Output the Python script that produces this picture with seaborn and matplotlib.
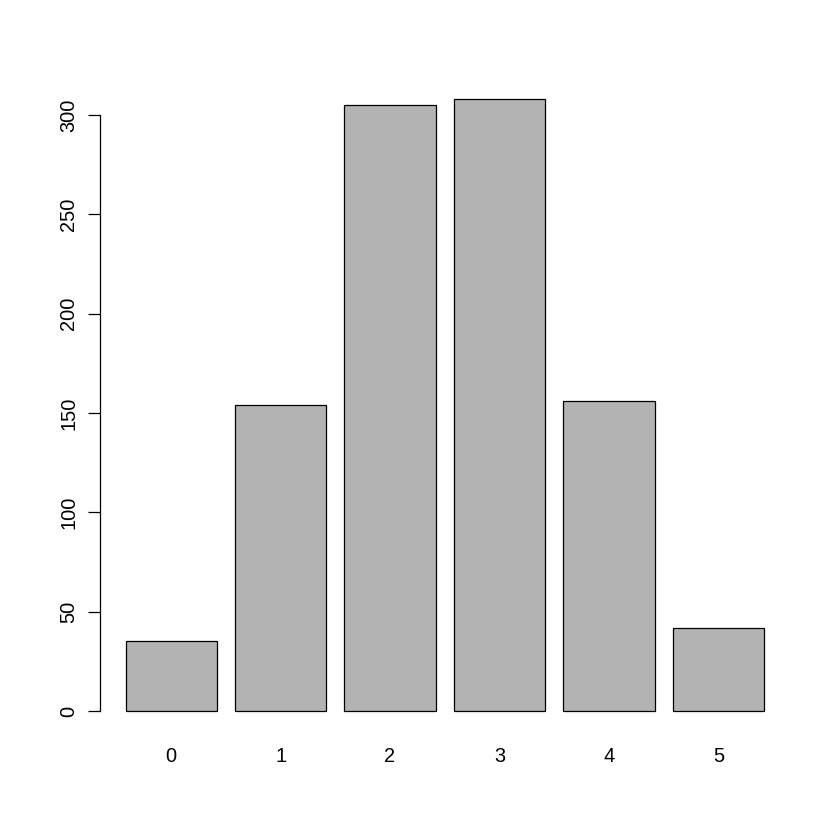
import matplotlib
matplotlib.use("Agg")
import matplotlib.pyplot as plt
import seaborn as sns
import pandas as pd

# Bar chart data (counts per category)
categories = ["0", "1", "2", "3", "4", "5"]
counts = [35, 154, 305, 308, 156, 42]
y_ticks = [0, 50, 100, 150, 200, 250, 300]

df = pd.DataFrame({"cat": categories, "n": counts})

sns.set_style("white")
plt.rcParams["font.family"] = ["Liberation Sans", "DejaVu Sans"]

fig = plt.figure(figsize=(8.4, 8.4), dpi=100)
ax = fig.add_axes([0.119, 0.1244, 0.821, 0.7869])

sns.barplot(data=df, x="cat", y="n", color="#B3B3B3", saturation=1,
            edgecolor="black", linewidth=0.9, width=1 / 1.2, ax=ax)

# R-style axes
ax.set_xlim(-0.65, 5.65)
ax.set_ylim(-12.32, 320.32)
ax.set_xlabel("")
ax.set_ylabel("")
for s in ["top", "right", "bottom"]:
    ax.spines[s].set_visible(False)
ax.spines["left"].set_bounds(0, 300)
ax.spines["left"].set_linewidth(0.9)
ax.spines["left"].set_color("black")

ax.set_yticks(y_ticks)
ax.set_yticklabels([str(v) for v in y_ticks], rotation=90, va="center")
ax.tick_params(axis="y", length=8.6, width=0.9, color="black",
               labelcolor="black", labelsize=14.4, pad=7, left=True)
ax.tick_params(axis="x", length=0, labelcolor="black", labelsize=14.4, pad=8)

fig.savefig("out.png", dpi=100)
